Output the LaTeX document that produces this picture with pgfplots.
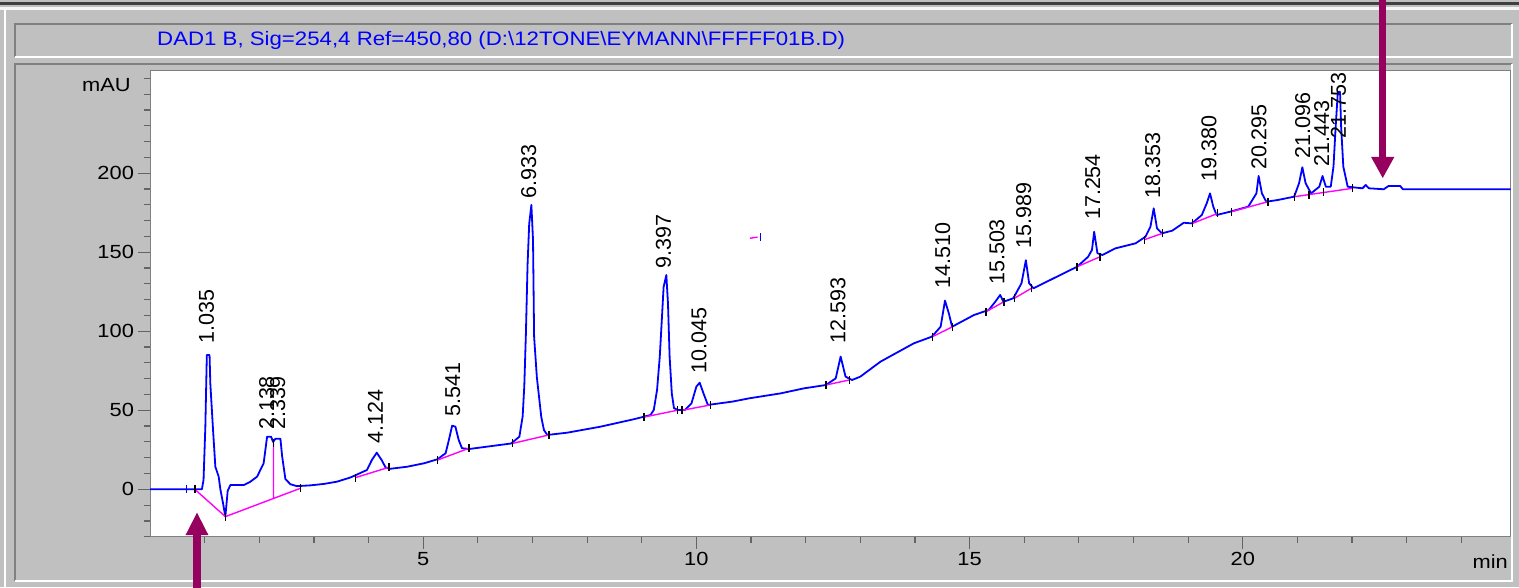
\documentclass[border=0pt]{standalone}
\usepackage{pgfplots}
\pgfplotsset{compat=1.18}
\usepackage{fontspec}
\setmainfont{Liberation Sans}
\definecolor{bggray}{RGB}{192,192,192}
\definecolor{edgedark}{RGB}{128,128,128}
\definecolor{arrowpurple}{RGB}{150,0,95}
\definecolor{sigblue}{RGB}{0,0,255}
\definecolor{basemag}{RGB}{255,0,255}
\definecolor{tickgray}{RGB}{100,100,100}
\begin{document}
\begin{tikzpicture}[x=1pt,y=1pt]
\useasboundingbox (0,0) rectangle (1519,587);
\fill[bggray] (0,0) rectangle (1519,587);
\fill[black!75] (0,582) rectangle (1519,584.5);
\fill[white!85!bggray] (0,577) rectangle (1519,580);
\fill[white] (4,0) rectangle (6,577);
% title box
\draw[edgedark, line width=1.5] (15,530) -- (15,563) -- (1512,563);
\draw[white, line width=1.5] (15,530) -- (1512,530) -- (1512,563);
% panel
\draw[edgedark, line width=1.5] (15,6) -- (15,523) -- (1512,523);
\draw[white, line width=1.5] (15,6) -- (1512,6) -- (1512,523);
\node[anchor=west, text=blue, font=\fontsize{19.5}{19.5}\selectfont, xscale=1.14, inner sep=0pt] at (157,546.5)
  {DAD1 B, Sig=254,4 Ref=450,80 (D:\textbackslash 12TONE\textbackslash EYMANN\textbackslash FFFFF01B.D)};

\begin{axis}[
  at={(150pt,50.3pt)}, anchor=south west, scale only axis,
  width=1360.5pt, height=466.1pt,
  xmin=0, xmax=24.9, ymin=-30, ymax=265,
  axis background/.style={fill=white},
  axis line style={draw=edgedark, line width=1pt},
  xtick={5,10,15,20}, minor xtick={1,2,...,24},
  ytick={0,50,100,150,200}, minor ytick={-30,-20,...,260},
  xtick pos=bottom, ytick pos=left,
  tick align=outside, major tick length=12pt, minor tick length=6pt,
  tick style={draw=tickgray, line width=1.2pt},
  tick label style={font=\fontsize{19}{19}\selectfont, xscale=1.15},
  /pgf/number format/assume math mode=true,
]
% chromatogram signal
\addplot[sigblue, line width=1.8pt, line join=round, mark=none] table {
t v
0 0
0.95 0
0.98 6
1.013 39.6
1.04 85
1.09 85
1.104 67
1.154 37.5
1.196 14.3
1.257 8
1.288 0
1.337 -8.9
1.379 -17.3
1.422 -1
1.471 2.7
1.715 2.7
1.837 4.8
1.96 8
2.08 16.5
2.143 33.3
2.216 33.3
2.253 30
2.295 32
2.387 32
2.418 21
2.478 6.5
2.57 3.2
2.69 2
2.94 2.5
3.18 3.4
3.42 4.8
3.67 7.5
3.97 12.2
4.06 18.5
4.15 23.2
4.24 18.5
4.31 13.9
4.40 13
4.71 14.3
5.02 16.5
5.26 19
5.41 22.8
5.47 31.2
5.53 40.3
5.59 39.6
5.65 31.2
5.71 26
5.84 25.5
6.17 27
6.61 29
6.76 33.3
6.82 46
6.85 65
6.88 98.7
6.91 142
6.94 168
6.98 180
7.01 157.8
7.03 96.6
7.08 71
7.12 58.6
7.16 46
7.21 37.5
7.27 34.4
7.63 35.8
8.24 39.6
8.85 44.3
9.16 47
9.22 50.2
9.28 62.8
9.33 84
9.37 109
9.40 128
9.45 135.6
9.48 117.7
9.51 84
9.55 60.7
9.59 51.3
9.67 50.2
9.79 50.2
9.91 54.4
10.0 65
10.06 67.5
10.13 60.7
10.21 53.4
10.66 55.5
10.97 57.6
11.54 60.7
11.97 63.9
12.37 66
12.55 70.2
12.64 84
12.73 71.3
12.85 69.2
13.0 71.3
13.37 80.8
13.98 92.4
14.31 96.6
14.47 102.9
14.55 119.4
14.62 111.4
14.68 102.9
15.08 110.3
15.35 113.5
15.47 118.7
15.56 123
15.62 118.7
15.80 120.9
15.95 130.4
16.03 145
16.09 130.4
16.17 127.2
16.6 134.6
16.97 140.9
17.17 147.2
17.24 151.5
17.28 163
17.34 149.4
17.43 148.3
17.67 152.5
18.04 155.7
18.22 159.9
18.31 166.2
18.37 177.8
18.43 165.2
18.52 162
18.71 163.7
18.92 168.7
19.07 168.3
19.25 173.6
19.34 181
19.40 187.3
19.46 178.9
19.52 173.6
19.77 175.7
20.1 178.9
20.25 187.3
20.29 198.3
20.35 187.3
20.43 182
20.64 183.1
20.94 185.2
21.03 193.7
21.09 203.8
21.15 193.7
21.25 187.3
21.40 191.5
21.46 198.3
21.52 191.5
21.61 191.5
21.66 204.2
21.70 229.5
21.74 251.6
21.78 251.6
21.80 229.5
21.84 204.2
21.92 191.5
22.19 190.5
22.25 192.6
22.31 190.5
22.58 189.9
22.67 192
22.88 192
22.93 189.9
24.9 189.9
};
% integration baselines
\addplot[basemag, line width=1.4pt, unbounded coords=jump, mark=none] table {
t v
0.82 0
1.38 -17.3
2.75 0.6
nan nan
2.26 29.5
2.26 -5.8
nan nan
3.76 7.4
4.37 13.9
nan nan
5.26 18.5
5.84 26
nan nan
6.63 29
7.30 34.4
nan nan
9.04 45.7
9.65 50
nan nan
9.74 50
10.26 53.4
nan nan
12.37 66
12.80 69.2
nan nan
14.32 96.6
14.69 102.9
nan nan
15.30 112.4
15.63 118.7
nan nan
15.82 120.9
16.13 127.2
nan nan
16.97 140.9
17.39 147.2
nan nan
18.20 158
18.53 162
nan nan
19.08 168.3
19.54 174.6
nan nan
19.79 175.7
20.46 182
nan nan
20.95 185.2
22.01 190.5
nan nan
10.98 158.9
11.12 159.6
};
% peak start/end markers
\addplot[only marks, mark=|, mark size=4pt, mark options={black, line width=1.5pt}] table {
t v
0.82 0
1.38 -17.3
2.26 29.5
2.75 0.6
3.76 7.4
4.37 13.9
5.26 18.5
5.84 26
6.63 29
7.30 34.4
9.04 45.7
9.65 50
9.74 50
10.26 53.4
12.37 66
12.80 69.2
14.32 96.6
14.69 102.9
15.30 112.4
15.63 118.7
15.82 120.9
16.13 127.2
16.97 140.9
17.39 147.2
18.20 158
18.53 162
19.08 168.3
19.54 174.6
19.79 175.7
20.46 182
20.95 185.2
21.21 186.5
21.48 187.9
22.01 190.5
};
\addplot[only marks, mark=|, mark size=4pt, mark options={sigblue, line width=1.5pt}] table {
t v
0.67 0
11.17 159.6
};
% retention time labels
\addplot[draw=none, mark=none, nodes near coords, point meta=explicit symbolic,
  nodes near coords style={rotate=90, anchor=west, inner sep=0pt, text=black,
  font=\fontsize{21.5}{21.5}\selectfont}] table[meta=lab] {
t v lab
1.035 92.4 1.035
2.138 37.5 2.138
2.339 37.5 2.339
4.124 29.1 4.124
5.541 46 5.541
6.933 184 6.933
9.397 139.9 9.397
10.045 73.4 10.045
12.593 92.4 12.593
14.510 127.2 14.510
15.503 129.3 15.503
15.989 152.5 15.989
17.254 170.4 17.254
18.353 184.2 18.353
19.380 194.7 19.380
20.295 202 20.295
21.096 209.5 21.096
21.443 204.2 21.443
21.753 222 21.753
};
\end{axis}

\node[anchor=east, font=\fontsize{19}{19}\selectfont, xscale=1.15, inner sep=0pt] at (131,502) {mAU};
\node[anchor=east, font=\fontsize{19}{19}\selectfont, xscale=1.15, inner sep=0pt] at (1508,25) {min};

% arrows
\fill[arrowpurple] (193,-2) rectangle (201,53);
\fill[arrowpurple] (185.6,52) -- (208.4,52) -- (197,74.3) -- cycle;
\fill[arrowpurple] (1379.2,589) rectangle (1386.2,429);
\fill[arrowpurple] (1371.1,430) -- (1394.3,430) -- (1382.7,409) -- cycle;
\end{tikzpicture}
\end{document}
